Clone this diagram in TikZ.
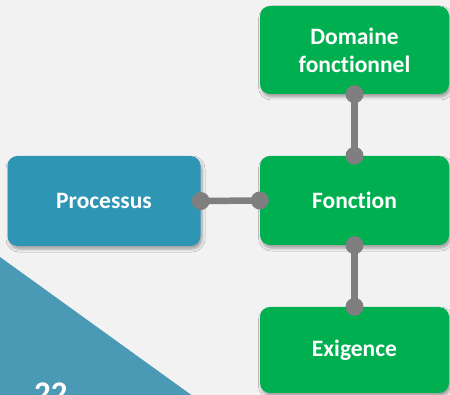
\documentclass[tikz,border=0pt]{standalone}
\usepackage{fontspec}
\setmainfont[Ligatures={NoCommon}]{Carlito}
\usetikzlibrary{shadows.blur}
\definecolor{bgray}{HTML}{F2F2F2}
\definecolor{boxgreen}{HTML}{00B050}
\definecolor{boxblue}{HTML}{2F95B5}
\definecolor{tri}{HTML}{4A9AB5}
\definecolor{linkgray}{HTML}{7F7F7F}
\tikzset{
  card/.style={rounded corners=10pt, minimum width=189pt, minimum height=88pt,
    text=white, align=center, inner sep=0pt,
    font=\bfseries\fontsize{23.5}{28}\selectfont,
    blur shadow={shadow xshift=1.5pt, shadow yshift=-3pt, shadow blur radius=3pt, shadow opacity=35}},
  greencard/.style={card, fill=boxgreen},
  bluecard/.style={card, fill=boxblue},
  link/.style={draw=linkgray, line width=6.5pt},
  knob/.style={fill=linkgray}
}
\begin{document}
\begin{tikzpicture}[x=1pt, y=-1pt]
  \useasboundingbox (0,0) rectangle (450,395);
  \fill[bgray] (0,0) rectangle (450,395);
  \begin{scope}
    \clip (0,0) rectangle (450,395);
    % corner band with the page number
    \fill[tri] (0,257) -- (0,420) -- (226,420) -- cycle;
    \node[anchor=base west, inner sep=0pt, text=white,
          font=\bfseries\fontsize{33}{33}\selectfont] (num) at (34,404) {22};
  \end{scope}
  % boxes
  \node[greencard] (dom) at (354.5,50) {Domaine\\fonctionnel};
  \node[greencard, minimum height=89pt] (fon) at (354.5,200.5) {Fonction};
  \node[greencard, minimum height=86pt] (exi) at (354.5,350) {Exigence};
  \node[bluecard, minimum width=193pt, minimum height=90pt] (pro) at (104,201) {Processus};
  % links with round end knobs
  \draw[link] (pro.east) -- (fon.west);
  \draw[link] (dom.south) -- (fon.north);
  \draw[link] (fon.south) -- (exi.north);
  \foreach \p in {pro.east, fon.west, dom.south, fon.north, fon.south, exi.north}
    \fill[knob] (\p) circle (9pt);
\end{tikzpicture}
\end{document}
